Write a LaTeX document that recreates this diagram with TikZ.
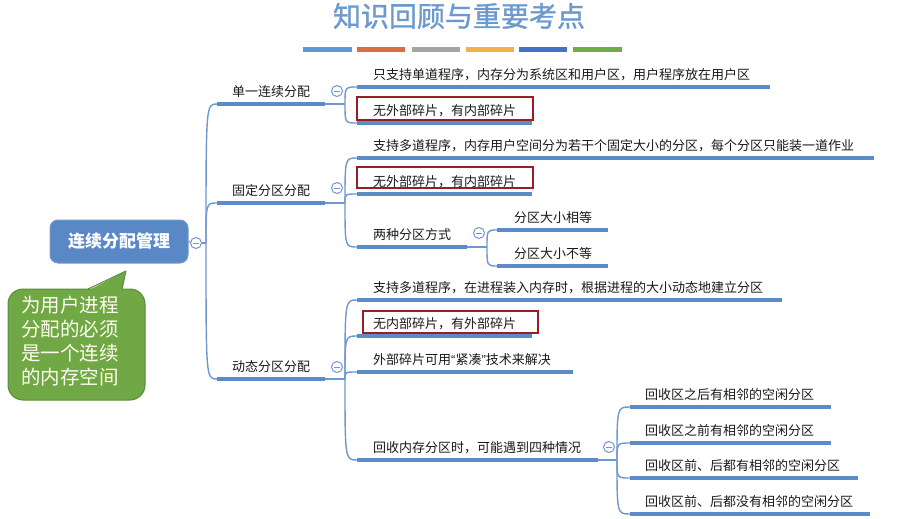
\documentclass[tikz,border=0pt]{standalone}
\usepackage{fontspec}
\setmainfont{Noto Sans CJK SC}
\newfontfamily\latinq{Liberation Sans}
\newfontfamily\titlefont{Noto Sans CJK SC}[FakeBold=1.2]
\definecolor{lineblue}{HTML}{5B8CC8}
\definecolor{thinblue}{HTML}{6E98CF}
\definecolor{rootblue}{HTML}{5A88C6}
\definecolor{boxred}{HTML}{9A1C24}
\definecolor{notegreen}{HTML}{70A845}
\definecolor{notedark}{HTML}{5C8C3A}
\definecolor{titleblue}{HTML}{6C9ACF}
\definecolor{textgray}{HTML}{1A1A1A}
\definecolor{barA}{HTML}{5B9BD5}
\definecolor{barB}{HTML}{D86E42}
\definecolor{barC}{HTML}{A5A5A5}
\definecolor{barD}{HTML}{F0B444}
\definecolor{barE}{HTML}{4472C4}
\definecolor{barF}{HTML}{70AD47}
\tikzset{
  ul/.style={draw=lineblue, line width=3.8pt},
  br/.style={draw=thinblue, line width=1.4pt},
  lbl/.style={anchor=west, inner sep=0pt, font=\fontsize{13}{15}\selectfont, text=textgray},
  fold/.style={circle, draw=thinblue, fill=white, line width=1pt, minimum size=11pt, inner sep=0pt,
    path picture={\draw[thinblue, line width=1pt] ([xshift=-2.6pt]path picture bounding box.center) -- ([xshift=2.6pt]path picture bounding box.center);}},
  redbox/.style={draw=boxred, line width=2.4pt},
  rootbox/.style={rounded corners=8pt, fill=rootblue, draw=rootblue!85!white, line width=1pt, minimum width=138pt, minimum height=43pt, text=white, font=\fontsize{17}{20}\selectfont\bfseries},
  notebox/.style={rounded corners=15pt, fill=notegreen, draw=notedark, line width=1pt, minimum width=137pt, minimum height=111pt, inner sep=0pt},
  notetext/.style={anchor=north west, inner sep=0pt, align=left, text=white!94!yellow, font=\fontsize{19.5}{24}\selectfont},
  bar/.style={line width=4.5pt}
}
\newcommand\leaf[6]{%
  \coordinate (#1s) at (#2,#4);
  \coordinate (#1e) at (#3,#4);
  \draw[ul] (#1s) -- (#1e);
  \node[lbl] (#1) at (#5,#4-12) {#6};
}
\newcommand\twig[2]{\draw[br] (#1) .. controls (#1 |- #2s) .. (#2s);}
\begin{document}
\begin{tikzpicture}[x=1pt, y=-1pt]
\useasboundingbox (0,0) rectangle (899,519);
\fill[white] (0,0) rectangle (899,519);

% title
\node[text=titleblue, font=\fontsize{28}{32}\selectfont\titlefont, inner sep=0pt] (title) at (459,16) {知识回顾与重要考点};
\draw[bar, barA] (303,49.5) -- (352,49.5);
\draw[bar, barB] (357,49.5) -- (405,49.5);
\draw[bar, barC] (412,49.5) -- (460,49.5);
\draw[bar, barD] (466,49.5) -- (514,49.5);
\draw[bar, barE] (519,49.5) -- (567,49.5);
\draw[bar, barF] (573,49.5) -- (622,49.5);

% root
\node[rootbox] (root) at (119,241.5) {连续分配管理};
\node[fold] (f0) at (196,243) {};
\coordinate (j0) at (206,243);
\draw[br] (root.east) -- (f0);
\draw[br] (f0) -- (j0);

% callout
\node[notebox] (note) at (76.5,344.5) {};
\fill[notegreen] (88,290.5) -- (126,271) -- (122,290.5) -- cycle;
\draw[notedark, line width=1pt, line join=round] (88,289) -- (126,271) -- (122,289);
\node[notetext] (notet) at (21,296) {为用户进程\\分配的必须\\是一个连续\\的内存空间};

% level 1
\leaf{A}{217}{325}{104}{232}{单一连续分配}
\leaf{B}{217}{325}{203}{232}{固定分区分配}
\leaf{C}{217}{325}{379}{232}{动态分区分配}
\twig{j0}{A}
\twig{j0}{B}
\twig{j0}{C}

\coordinate (jA) at (345,104);
\coordinate (jB) at (345,203);
\coordinate (jC) at (345,379);
\draw[br] (Ae) -- (jA);
\draw[br] (Be) -- (jB);
\draw[br] (Ce) -- (jC);
\node[fold] (fA) at (337,91) {};
\node[fold] (fB) at (337,188) {};
\node[fold] (fC) at (337,367) {};

% level 2: single
\leaf{A1}{357}{770}{87}{373}{只支持单道程序，内存分为系统区和用户区，用户程序放在用户区}
\leaf{A2}{357}{532}{123}{373}{无外部碎片，有内部碎片}
\twig{jA}{A1}
\twig{jA}{A2}

% level 2: fixed
\leaf{B1}{357}{874}{158}{373}{支持多道程序，内存用户空间分为若干个固定大小的分区，每个分区只能装一道作业}
\leaf{B2}{357}{532}{194}{373}{无外部碎片，有内部碎片}
\leaf{B3}{357}{467}{247}{373}{两种分区方式}
\twig{jB}{B1}
\twig{jB}{B2}
\twig{jB}{B3}
\coordinate (jB3) at (487,247);
\draw[br] (B3e) -- (jB3);
\node[fold] (fB3) at (479,233) {};
\leaf{B31}{497}{608}{230}{514}{分区大小相等}
\leaf{B32}{497}{608}{266}{514}{分区大小不等}
\twig{jB3}{B31}
\twig{jB3}{B32}

% level 2: dynamic
\leaf{C1}{357}{782}{300}{373}{支持多道程序，在进程装入内存时，根据进程的大小动态地建立分区}
\leaf{C2}{357}{532}{336}{373}{无内部碎片，有外部碎片}
\leaf{C3}{357}{573}{372}{373}{外部碎片可用{\latinq “}紧凑{\latinq ”}技术来解决}
\leaf{C4}{357}{598}{460}{373}{回收内存分区时，可能遇到四种情况}
\twig{jC}{C1}
\twig{jC}{C2}
\twig{jC}{C3}
\twig{jC}{C4}
\coordinate (jC4) at (617,460);
\draw[br] (C4e) -- (jC4);
\node[fold] (fC4) at (609,447) {};
\leaf{C41}{630}{831}{407}{645}{回收区之后有相邻的空闲分区}
\leaf{C42}{630}{831}{443}{645}{回收区之前有相邻的空闲分区}
\leaf{C43}{630}{858}{478}{645}{回收区前、后都有相邻的空闲分区}
\leaf{C44}{630}{870}{514}{645}{回收区前、后都没有相邻的空闲分区}
\twig{jC4}{C41}
\twig{jC4}{C42}
\twig{jC4}{C43}
\twig{jC4}{C44}

% red boxes
\draw[redbox] (357,97) rectangle (533,120);
\draw[redbox] (357,167) rectangle (533,188);
\draw[redbox] (363,311) rectangle (538,333);
\end{tikzpicture}
\end{document}
